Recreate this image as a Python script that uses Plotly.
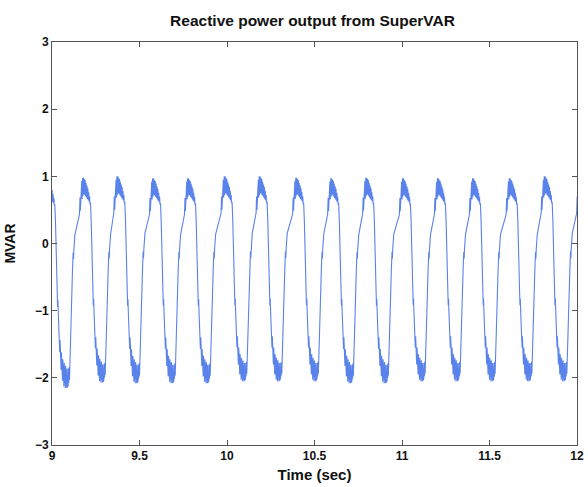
import plotly.graph_objects as go

# ---- data ----
# times (s) of each positive peak of the oscillation
peak_times = [8.985, 9.189, 9.385, 9.589, 9.789, 9.998, 10.198, 10.407,
              10.607, 10.807, 11.017, 11.217, 11.417, 11.627, 11.827, 12.03]
# peak heights (MVAR) and following trough depths (MVAR) for each cycle
peak_values = [0.95, 0.98, 1.0, 0.97, 0.97, 1.0, 1.0, 0.98,
               0.97, 0.98, 0.97, 0.97, 0.97, 0.97, 1.0, 1.0]
trough_values = [-2.15, -2.07, -2.08, -2.08, -2.08, -2.05, -2.05, -2.05,
                 -2.08, -2.08, -2.05, -2.05, -2.05, -2.05, -2.05, -2.05]

# one cycle of the waveform:
# time offset from the peak (s) and value (MVAR), including the ripple
cycle_offsets = [-0.032, -0.029, -0.027, -0.024, -0.022, -0.019, -0.017, -0.014,
                 -0.012, -0.009, -0.007, -0.004, -0.002, 0.001, 0.003, 0.006,
                 0.008, 0.011, 0.013, 0.016, 0.018, 0.021, 0.023, 0.026,
                 0.028, 0.031, 0.035, 0.040, 0.044, 0.047, 0.049, 0.051,
                 0.054, 0.057, 0.059, 0.061, 0.063, 0.065, 0.067, 0.069,
                 0.071, 0.073, 0.075, 0.077, 0.079, 0.081, 0.083, 0.085,
                 0.087, 0.089, 0.091, 0.093, 0.095, 0.097, 0.099, 0.101,
                 0.103, 0.105, 0.107, 0.109, 0.111, 0.113, 0.115, 0.117,
                 0.119, 0.122, 0.127, 0.132, 0.136, 0.138, 0.140, 0.146]
cycle_values = [0.45, 0.70, 0.50, 0.85, 0.60, 0.95, 0.68, 1.00,
                0.72, 1.00, 0.75, 0.98, 0.74, 0.96, 0.72, 0.92,
                0.70, 0.88, 0.68, 0.84, 0.66, 0.78, 0.64, 0.72,
                0.60, 0.62, 0.35, -0.25, -0.70, -0.92, -0.82, -1.00,
                -1.15, -1.35, -1.55, -1.38, -1.70, -1.48, -1.80, -1.55,
                -1.88, -1.60, -1.95, -1.65, -2.00, -1.68, -2.03, -1.70,
                -2.05, -1.72, -2.05, -1.74, -2.04, -1.76, -2.05, -1.78,
                -2.04, -1.78, -2.02, -1.78, -1.98, -1.76, -1.94, -1.72,
                -1.88, -1.60, -1.05, -0.40, -0.12, -0.22, -0.08, 0.15]

MID = -0.5
REF_PEAK = 1.0
REF_TROUGH = -2.05

t = []
y = []
for tp, pv, tv in zip(peak_times, peak_values, trough_values):
    for off, v in zip(cycle_offsets, cycle_values):
        t.append(tp + off)
        if v >= MID:
            y.append(MID + (v - MID) * (pv - MID) / (REF_PEAK - MID))
        else:
            y.append(MID + (v - MID) * (tv - MID) / (REF_TROUGH - MID))

x_ticks = [9, 9.5, 10, 10.5, 11, 11.5, 12]
x_tick_labels = ["9", "9.5", "10", "10.5", "11", "11.5", "12"]
y_ticks = [-3, -2, -1, 0, 1, 2, 3]

fig = go.Figure()
fig.add_trace(go.Scatter(x=t, y=y, mode="lines",
                         line=dict(color="rgb(90,130,235)", width=1.1),
                         showlegend=False))

font_family = "Liberation Sans, Arial, sans-serif"
fig.update_layout(
    width=588, height=487,
    margin=dict(l=52, r=11, t=42, b=42, autoexpand=False),
    paper_bgcolor="white", plot_bgcolor="white",
    font=dict(family=font_family, size=12, color="#111", weight="bold"),
    title=dict(text="Reactive power output from SuperVAR",
               x=312.5 / 588, xanchor="center", y=1 - 21 / 487, yanchor="middle",
               font=dict(size=15.5, color="#111", weight="bold")),
)
fig.update_xaxes(range=[9, 12], tickvals=x_ticks, ticktext=x_tick_labels,
                 automargin=False,
                 showgrid=False, zeroline=False, showline=True, mirror="ticks",
                 linecolor="#555", linewidth=1, ticks="inside", ticklen=5,
                 tickcolor="#555", tickfont=dict(size=12, weight="bold"),
                 title=dict(text="Time (sec)", standoff=7,
                            font=dict(size=15, weight="bold")))
fig.update_yaxes(range=[-3, 3], tickvals=y_ticks,
                 automargin=False,
                 showgrid=False, zeroline=False, showline=True, mirror="ticks",
                 linecolor="#555", linewidth=1, ticks="inside", ticklen=5,
                 tickcolor="#555", tickfont=dict(size=12, weight="bold"),
                 title=dict(text="MVAR", standoff=16,
                            font=dict(size=14, weight="bold")))

fig.write_html("out.html",
               config={"displayModeBar": False},
               post_script="document.body.style.margin='0';"
                           "document.body.style.overflow='hidden';")
